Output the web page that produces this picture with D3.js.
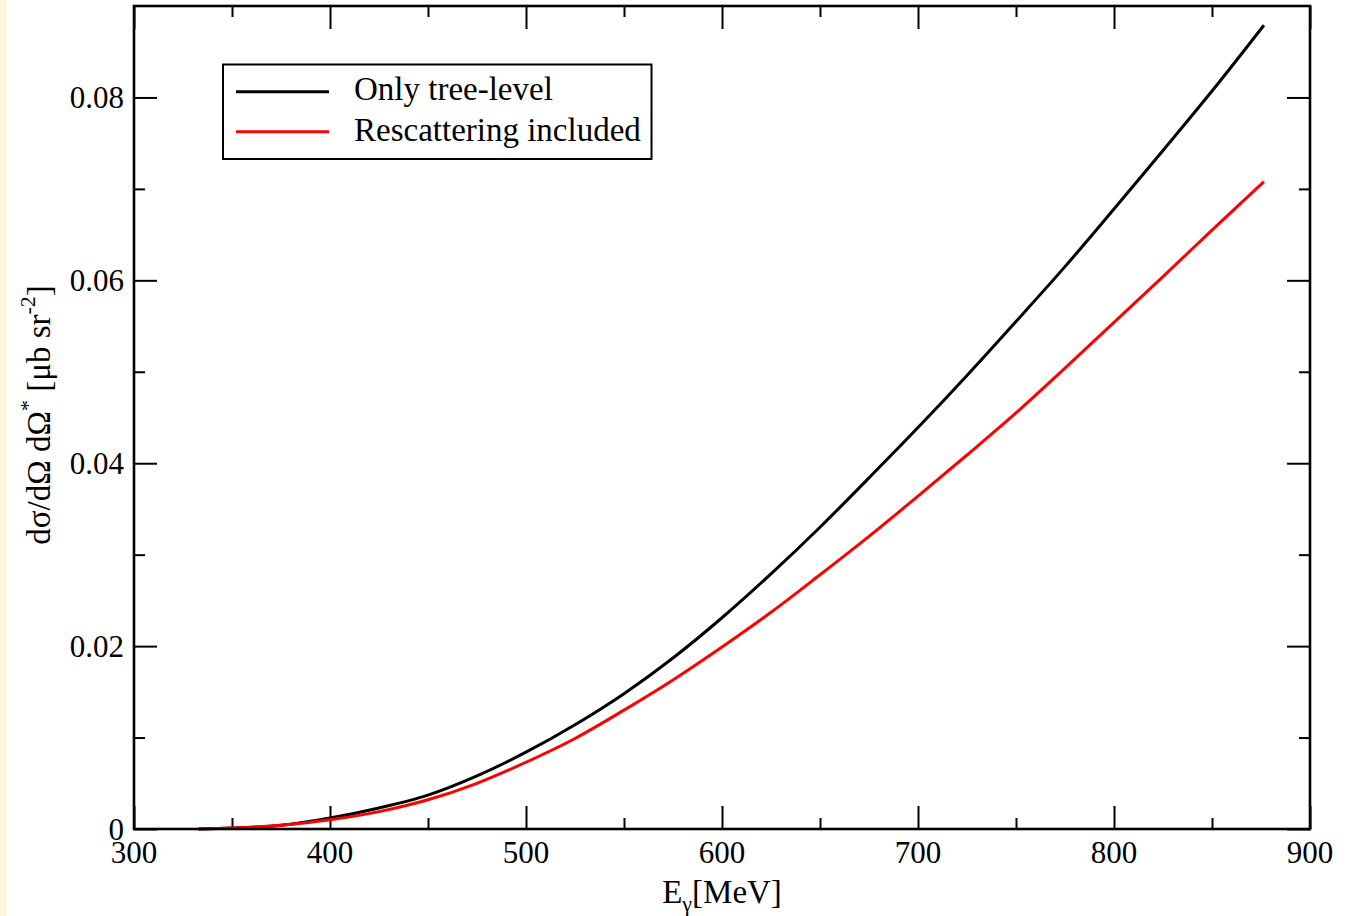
<!DOCTYPE html>
<html><head><meta charset="utf-8">
<script src="https://cdn.jsdelivr.net/npm/d3@7"></script>
<style>
html,body{margin:0;padding:0;background:#fff;}
svg{display:block;}
text{font-family:"Liberation Serif","Times New Roman",serif;fill:#000;}
</style></head>
<body>
<svg id="c" width="1346" height="916"></svg>
<script>
// Data
const energy = [333, 350, 375, 400, 425, 450, 475, 500, 525, 550, 575, 600, 625, 650, 675, 700, 725, 750, 775, 800, 825, 850, 876.5];
const treeLevel = [0.0000, 0.0001, 0.0004, 0.0012, 0.0023, 0.0037, 0.0058, 0.0084, 0.0114, 0.0148, 0.0187, 0.0231, 0.0279, 0.0330, 0.0384, 0.0439, 0.0496, 0.0555, 0.0615, 0.0678, 0.0742, 0.0807, 0.0879];
const rescattering = [0.0000, 0.0001, 0.0004, 0.0010, 0.0019, 0.0032, 0.0050, 0.0073, 0.0099, 0.0130, 0.0163, 0.0199, 0.0237, 0.0278, 0.0320, 0.0364, 0.0409, 0.0455, 0.0504, 0.0554, 0.0604, 0.0655, 0.0708];
const seriesNames = ["Only tree-level", "Rescattering included"];
const seriesColors = ["#000000", "#ff0000"];
const xMajorTicks = [300, 400, 500, 600, 700, 800, 900];
const yMajorTicks = [0, 0.02, 0.04, 0.06, 0.08];
const yTickLabels = ["0", "0.02", "0.04", "0.06", "0.08"];

const svg = d3.select("#c");
svg.append("rect").attr("x",0).attr("y",0).attr("width",7).attr("height",916).attr("fill","#fdf8dc");

const L = 134, R = 1310, T = 6, B = 829;
const x = d3.scaleLinear().domain([300, 900]).range([L, R]);
const y = d3.scaleLinear().domain([0, 0.09]).range([B, T]);

const xMinor = d3.range(350, 900, 100);
const yMinor = [0.01, 0.03, 0.05, 0.07];
const fontSize = 31;
const bigFont = 33;

// axes with inward ticks on all four sides
const gB = svg.append("g").attr("transform",`translate(0,${B})`);
gB.call(d3.axisBottom(x).tickValues(xMajorTicks).tickSize(-23).tickFormat(""));
gB.append("g").call(d3.axisBottom(x).tickValues(xMinor).tickSize(-11).tickFormat(""));
const gT = svg.append("g").attr("transform",`translate(0,${T})`);
gT.call(d3.axisTop(x).tickValues(xMajorTicks).tickSize(-23).tickFormat(""));
gT.append("g").call(d3.axisTop(x).tickValues(xMinor).tickSize(-11).tickFormat(""));
const gL = svg.append("g").attr("transform",`translate(${L},0)`);
gL.call(d3.axisLeft(y).tickValues(yMajorTicks).tickSize(-23).tickFormat(""));
gL.append("g").call(d3.axisLeft(y).tickValues(yMinor).tickSize(-11).tickFormat(""));
const gR = svg.append("g").attr("transform",`translate(${R},0)`);
gR.call(d3.axisRight(y).tickValues(yMajorTicks).tickSize(-23).tickFormat(""));
gR.append("g").call(d3.axisRight(y).tickValues(yMinor).tickSize(-11).tickFormat(""));
svg.selectAll(".domain").remove();
svg.selectAll(".tick line").attr("stroke","#000").attr("stroke-width",2);

// tick labels
svg.append("g").selectAll("text").data(xMajorTicks).join("text")
  .attr("x", d => x(d)).attr("y", 863).attr("text-anchor","middle")
  .attr("font-size", fontSize).text(d => d);
svg.append("g").selectAll("text").data(yMajorTicks).join("text")
  .attr("x", L - 10).attr("y", d => y(d) + 10.5).attr("text-anchor","end")
  .attr("font-size", fontSize).text((d,i) => yTickLabels[i]);

// curves
const line = d3.line().x(d => x(d[0])).y(d => y(d[1])).curve(d3.curveMonotoneX);
[treeLevel, rescattering].forEach((vals, i) => {
  svg.append("path").datum(energy.map((e, j) => [e, vals[j]]))
    .attr("d", line).attr("fill","none").attr("stroke", seriesColors[i])
    .attr("stroke-width", 3).attr("stroke-linejoin","round");
});

// frame
svg.append("rect").attr("x",L).attr("y",T).attr("width",R-L).attr("height",B-T)
  .attr("fill","none").attr("stroke","#000").attr("stroke-width",2.6);

// legend
const lg = svg.append("g");
lg.append("rect").attr("x",223).attr("y",64.5).attr("width",428.5).attr("height",94.5)
  .attr("fill","#fff").attr("stroke","#000").attr("stroke-width",2);
seriesNames.forEach((n, i) => {
  const yy = 91.7 + i * 40;
  lg.append("line").attr("x1",236).attr("x2",329).attr("y1",yy).attr("y2",yy)
    .attr("stroke", seriesColors[i]).attr("stroke-width",3);
  lg.append("text").attr("x",354).attr("y", 99.5 + i * 41).attr("font-size", bigFont).text(n);
});

// x title
const xt = svg.append("text").attr("x", 722).attr("y", 903).attr("text-anchor","middle").attr("font-size", bigFont);
xt.append("tspan").text("E");
xt.append("tspan").attr("font-size", 22).attr("dy", 8).text("γ");
xt.append("tspan").attr("dy", -8).text("[MeV]");

// y title
const yt = svg.append("text").attr("transform","translate(50,415) rotate(-90)")
  .attr("text-anchor","middle").attr("font-size", bigFont);
yt.append("tspan").text("dσ/dΩ dΩ");
yt.append("tspan").attr("font-size", 22).attr("dy", -15).text("*");
yt.append("tspan").attr("dy", 15).text(" [μb sr");
yt.append("tspan").attr("font-size", 22).attr("dy", -15).text("-2");
yt.append("tspan").attr("dy", 15).text("]");
</script>
</body></html>
